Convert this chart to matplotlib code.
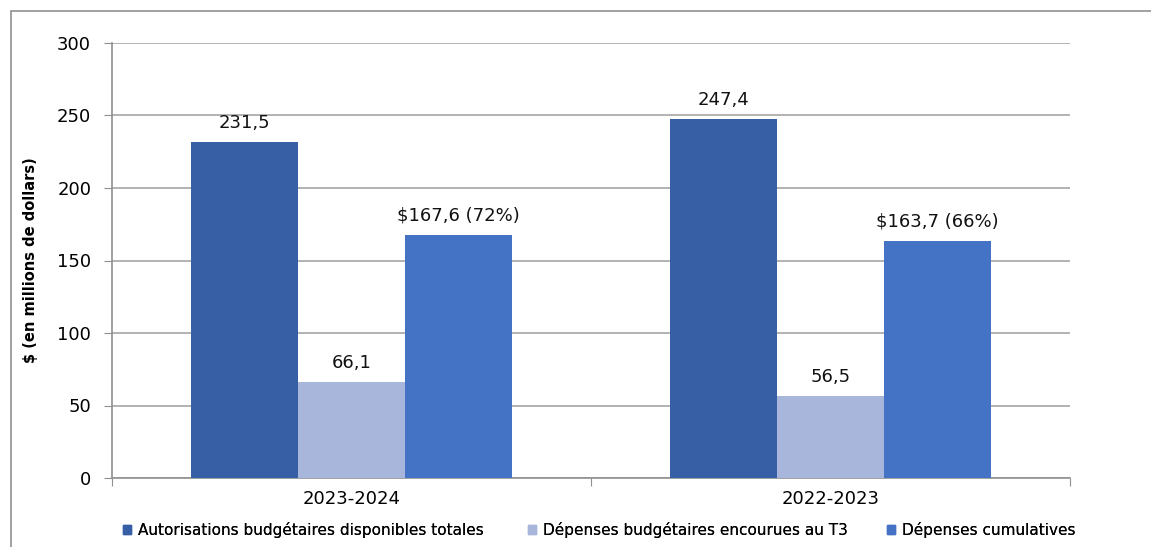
import matplotlib
matplotlib.use("Agg")
import matplotlib.pyplot as plt
import numpy as np
from matplotlib.patches import Rectangle, Patch

categories = ["2023-2024", "2022-2023"]
series_names = ["Autorisations budgétaires disponibles totales",
                "Dépenses budgétaires encourues au T3",
                "Dépenses cumulatives"]
autorisations = [231.5, 247.4]
depenses_t3 = [66.1, 56.5]
cumulatives = [167.6, 163.7]
labels_aut = ["231,5", "247,4"]
labels_t3 = ["66,1", "56,5"]
labels_cum = ["$167,6 (72%)", "$163,7 (66%)"]
colors = ["#365FA5", "#A7B6DA", "#4472C4"]

FS = 13
fig = plt.figure(figsize=(11.51, 5.47), dpi=100)
fig.patch.set_facecolor("white")
# outer frame
fig.add_artist(Rectangle((11/1151, -0.01), 1.02, (547-11)/547 + 0.01, transform=fig.transFigure,
                         fill=False, edgecolor="#909090", linewidth=1.2))

ax = fig.add_axes([112/1151, 1-478/547, (1070-112)/1151, (478-43)/547])
x = np.arange(len(categories))
w = 0.223
series = [autorisations, depenses_t3, cumulatives]
labels = [labels_aut, labels_t3, labels_cum]
for i, (vals, labs) in enumerate(zip(series, labels)):
    pos = x + (i - 1) * w
    ax.bar(pos, vals, width=w, color=colors[i], label=series_names[i], zorder=3)
    for p, v, l in zip(pos, vals, labs):
        ax.text(p, v + 7, l, ha="center", va="bottom", fontsize=FS, color="#111111")

ax.set_xlim(-0.5, 1.5)
ax.set_ylim(0, 300)
ax.set_yticks(range(0, 301, 50))
ax.set_xticks([-0.5, 0.5, 1.5], minor=False)
ax.set_xticklabels([])
ax.set_xticks(x, minor=True)
ax.set_xticklabels(categories, minor=True, fontsize=FS)
ax.tick_params(axis="x", which="minor", length=0, pad=9)
ax.tick_params(axis="x", which="major", length=6, color="#909090", direction="out")
ax.tick_params(axis="y", length=6, color="#909090", labelsize=FS, pad=9)
ax.grid(axis="y", color="#A6A6A6", linewidth=1.2, zorder=0)
for s in ["top", "right"]:
    ax.spines[s].set_visible(False)
for s in ["left", "bottom"]:
    ax.spines[s].set_color("#909090")
    ax.spines[s].set_linewidth(1.2)
ax.set_ylabel("$ (en millions de dollars)", fontsize=10.5, fontweight="bold")
ax.yaxis.set_label_coords((38-112)/958, 0.5)

# legend entries placed individually like the original
leg_left = [123, 528, 887]
for name, col, lx in zip(series_names, colors, leg_left):
    lg = fig.legend(handles=[Patch(color=col, label=name)], loc="center left",
                    bbox_to_anchor=(lx/1151, 1-530/547), frameon=False,
                    fontsize=11, handlelength=0.55, handleheight=0.55,
                    handletextpad=0.43, borderpad=0, borderaxespad=0)
    fig.add_artist(lg)

fig.savefig("out.png", dpi=100, facecolor="white")
